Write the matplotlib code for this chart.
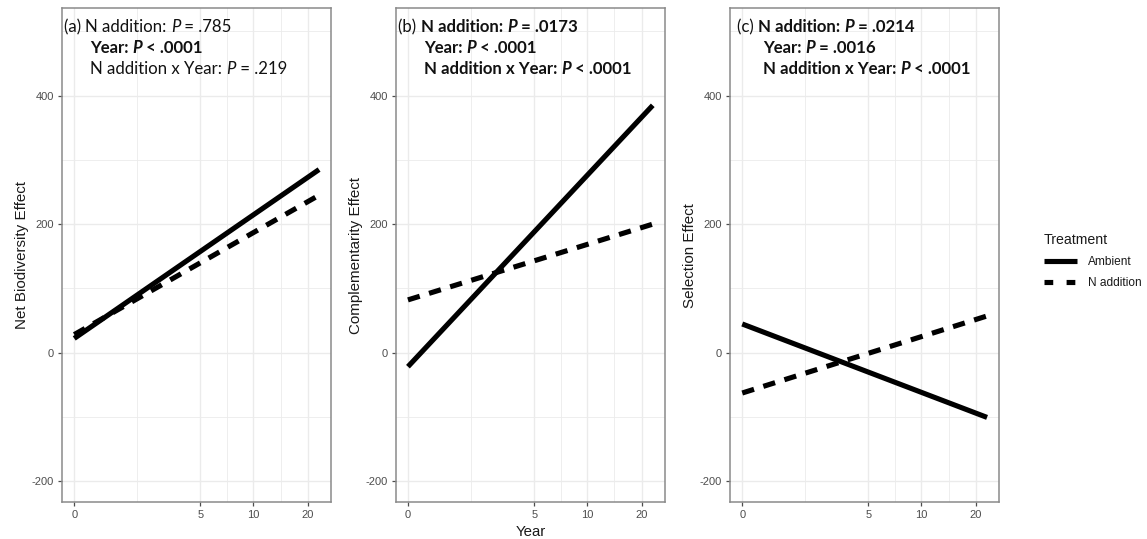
import numpy as np
import matplotlib
matplotlib.use("Agg")
import matplotlib.pyplot as plt
from matplotlib.lines import Line2D

# ---------------- data ----------------
years = [0, 23]
net_ambient = [22, 285]
net_nadd = [28, 245]
comp_ambient = [-22, 385]
comp_nadd = [82, 200]
sel_ambient = [44.5, -101]
sel_nadd = [-63, 57]

x_ticks = [0, 5, 10, 20]
y_ticks = [-200, 0, 200, 400]
y_minor = [-100, 100, 300, 500]

y_labels = ["Net Biodiversity Effect", "Complementarity Effect", "Selection Effect"]
x_label = "Year"
treatments = ["Ambient", "N addition"]

N, B, I, BI = ("normal", "normal"), ("bold", "normal"), ("normal", "italic"), ("bold", "italic")
annot_a = [
    [("(a) ", N), ("N addition: ", N), ("P", I), (" = .785", N)],
    [("Year: ", B), ("P", BI), (" < .0001", B)],
    [("N addition x Year: ", N), ("P", I), (" = .219", N)],
]
annot_b = [
    [("(b) ", N), ("N addition: ", B), ("P", BI), (" = .0173", B)],
    [("Year: ", B), ("P", BI), (" < .0001", B)],
    [("N addition x Year: ", B), ("P", BI), (" < .0001", B)],
]
annot_c = [
    [("(c) ", N), ("N addition: ", B), ("P", BI), (" = .0214", B)],
    [("Year: ", B), ("P", BI), (" = .0016", B)],
    [("N addition x Year: ", B), ("P", BI), (" < .0001", B)],
]

# ---------------- layout ----------------
W, H = 1147, 539
fig = plt.figure(figsize=(W / 100, H / 100), dpi=100)
fig.patch.set_facecolor("white")

def rect(l, r, t, b):
    return [l / W, 1 - b / H, (r - l) / W, (b - t) / H]

lefts = [62, 395.7, 730]
pw = 269.3
top, bot = 8.3, 502.3

SIG = 2.15
fwd = lambda x: np.arcsinh(np.asarray(x, dtype=float) / SIG)
inv = lambda y: SIG * np.sinh(np.asarray(y, dtype=float))

f0, f1 = fwd(years[0]), fwd(years[-1])
span = f1 - f0
xlim = (float(inv(f0 - 0.05 * span)), float(inv(f1 + 0.05 * span)))
fx = fwd(x_ticks)
x_minor = list(inv((fx[:-1] + fx[1:]) / 2))

TXT_FONT = "Lato"
AX_FONT = "Liberation Sans"
tick_col = "#4d4d4d"
grid_col = "#ebebeb"
line_w = 3.7
dash = (2.4, 1.9)

panels = [
    (net_ambient, net_nadd, annot_a, (2.0, 28.0)),
    (comp_ambient, comp_nadd, annot_b, (2.6, 28.3)),
    (sel_ambient, sel_nadd, annot_c, (6.7, 32.7)),
]

def rich(ax, x_px, y_frac, segs, size):
    x = x_px / pw
    prev = None
    for text, (wt, st) in segs:
        if prev is None:
            t = ax.text(x, y_frac, text, transform=ax.transAxes, fontsize=size,
                        fontweight=wt, fontstyle=st, family=TXT_FONT,
                        va="baseline", ha="left", color="#111111")
        else:
            t = ax.annotate(text, xy=(1, 0), xycoords=prev, fontsize=size,
                            fontweight=wt, fontstyle=st, family=TXT_FONT,
                            va="bottom", ha="left", color="#111111")
        prev = t

line_baselines = [32.5, 53.5, 74.5]

for i, (amb, nadd, annot, (x1, x2)) in enumerate(panels):
    ax = fig.add_axes(rect(lefts[i], lefts[i] + pw, top, bot))
    ax.set_xscale("function", functions=(fwd, inv))
    ax.set_xlim(*xlim)
    ax.set_ylim(-233.2, 536.1)

    for v in x_minor:
        ax.axvline(v, color=grid_col, lw=0.6, zorder=0)
    for v in x_ticks:
        ax.axvline(v, color=grid_col, lw=1.0, zorder=0)
    for v in y_minor:
        ax.axhline(v, color=grid_col, lw=0.6, zorder=0)
    for v in y_ticks:
        ax.axhline(v, color=grid_col, lw=1.0, zorder=0)

    ax.plot(years, amb, color="black", lw=line_w, solid_capstyle="butt", zorder=3)
    ax.plot(years, nadd, color="black", lw=line_w, linestyle=(0, dash),
            dash_capstyle="butt", zorder=3)

    ax.set_xticks(x_ticks)
    ax.set_xticklabels([str(v) for v in x_ticks])
    ax.xaxis.set_minor_locator(matplotlib.ticker.NullLocator())
    ax.set_yticks(y_ticks)
    ax.set_yticklabels([str(v) for v in y_ticks])
    ax.tick_params(axis="both", length=2.6, width=0.9, color=tick_col,
                   labelcolor=tick_col, labelsize=8, pad=3.0)
    for lab in ax.get_xticklabels() + ax.get_yticklabels():
        lab.set_family(AX_FONT)
    for sp in ax.spines.values():
        sp.set_color("#8a8a8a")
        sp.set_linewidth(1.1)

    ax.set_ylabel(y_labels[i], family=AX_FONT, fontsize=10.9, color="#1a1a1a", labelpad=2)
    if i == 1:
        ax.set_xlabel(x_label, family=AX_FONT, fontsize=10.8, color="#1a1a1a", labelpad=3.8)

    for j, segs in enumerate(annot):
        xp = x1 if j == 0 else x2
        yf = (bot - line_baselines[j]) / (bot - top)
        rich(ax, xp, yf, segs, 12.1)

handles = [
    Line2D([], [], color="black", lw=line_w, solid_capstyle="butt"),
    Line2D([], [], color="black", lw=line_w, linestyle=(0, (1.7, 2.6)), dash_capstyle="butt"),
]
leg = fig.legend(handles, treatments, title="Treatment", loc="upper left",
                 bbox_to_anchor=(1044 / W, 1 - 233 / H), frameon=False,
                 prop={"family": AX_FONT, "size": 8.6},
                 title_fontproperties={"family": AX_FONT, "size": 10.2},
                 handlelength=2.8, handletextpad=0.85, labelspacing=0.75,
                 borderpad=0, borderaxespad=0, alignment="left")
leg.get_title().set_color("#1a1a1a")
for t in leg.get_texts():
    t.set_color("#1a1a1a")

fig.savefig("out.png", dpi=100, facecolor="white")
